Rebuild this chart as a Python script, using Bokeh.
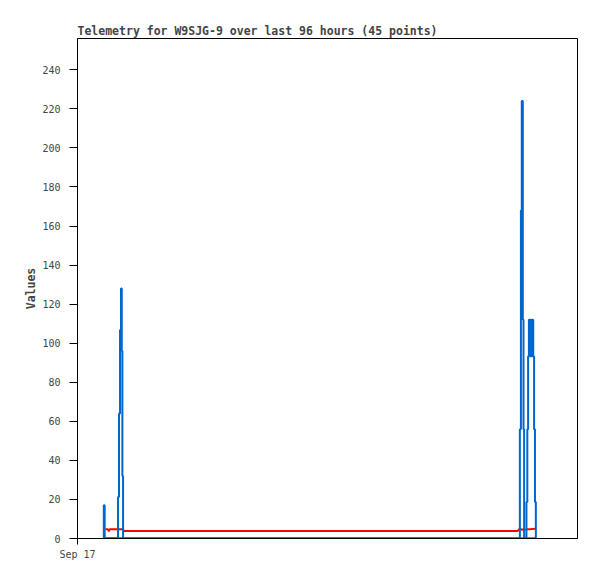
import pandas as pd
from bokeh.plotting import figure
from bokeh.models import Range1d, FixedTicker, DatetimeTickFormatter, ColumnDataSource
from bokeh.embed import file_html
from bokeh.resources import INLINE

title_text = "Telemetry for W9SJG-9 over last 96 hours (45 points)"
y_label = "Values"
range_start = "2023-09-17 00:00"
range_hours = 96
y_ticks = list(range(0, 241, 20))

# blue series (drawn as steps)
blue_times = [
    "2023-09-17 05:01", "2023-09-17 05:03", "2023-09-17 05:13",
    "2023-09-17 07:47", "2023-09-17 07:58", "2023-09-17 08:10", "2023-09-17 08:21",
    "2023-09-17 08:30", "2023-09-17 08:37", "2023-09-17 08:45",
    "2023-09-20 12:56", "2023-09-20 13:08", "2023-09-20 13:18", "2023-09-20 13:30",
    "2023-09-20 13:38", "2023-09-20 13:45",
    "2023-09-20 14:12", "2023-09-20 14:22", "2023-09-20 14:31", "2023-09-20 14:40",
    "2023-09-20 14:47", "2023-09-20 14:54", "2023-09-20 15:01", "2023-09-20 15:08",
    "2023-09-20 15:15", "2023-09-20 15:22",
    "2023-09-20 15:30", "2023-09-20 15:40", "2023-09-20 15:50", "2023-09-20 16:00",
]
blue_values = [
    0, 17, 0,
    21.3, 64, 106.7, 128,
    96, 32, 0,
    56, 168, 224, 112,
    56, 0,
    18.7, 56, 93.3, 112,
    93.3, 112, 93.3, 112,
    93.3, 112,
    93.3, 56, 18.7, 0,
]

# red series
red_times = [
    "2023-09-17 05:23", "2023-09-17 05:49", "2023-09-17 06:01", "2023-09-17 06:12",
    "2023-09-17 07:18", "2023-09-17 08:44", "2023-09-17 08:56",
    "2023-09-20 12:29", "2023-09-20 12:46", "2023-09-20 13:03", "2023-09-20 13:20",
    "2023-09-20 13:38", "2023-09-20 14:01", "2023-09-20 14:24", "2023-09-20 14:59",
    "2023-09-20 15:56",
]
red_values = [
    4.8, 4.8, 3.7, 4.8,
    4.8, 4.8, 3.8,
    3.8, 4.6, 4.8, 4.4,
    4.8, 4.5, 4.8, 4.8,
    5.0,
]

# black series
black_times = ["2023-09-17 05:01", "2023-09-20 16:00"]
black_values = [0, 0]

start = pd.Timestamp(range_start)
end = start + pd.Timedelta(hours=range_hours)

blue_src = ColumnDataSource(dict(t=pd.to_datetime(blue_times), v=blue_values))
red_src = ColumnDataSource(dict(t=pd.to_datetime(red_times), v=red_values))
black_src = ColumnDataSource(dict(t=pd.to_datetime(black_times), v=black_values))

p = figure(
    x_axis_type="datetime",
    frame_width=500, frame_height=500,
    min_border_left=77, min_border_right=12, min_border_top=38, min_border_bottom=33,
    x_range=Range1d(start, end), y_range=Range1d(0, 256),
    output_backend="svg", toolbar_location=None,
    background_fill_color="white", border_fill_color="white",
)
p.grid.visible = False
p.outline_line_color = "black"
p.outline_line_width = 1
p.outline_line_alpha = 1

p.title.text = title_text
p.title.align = "left"
p.title.text_font = "DejaVu Sans Mono"
p.title.text_font_size = "11.5px"
p.title.text_font_style = "bold"
p.title.standoff = 2
p.title.offset = 0

p.line("t", "v", source=red_src, line_color="#ff0000", line_width=2)
p.line("t", "v", source=black_src, line_color="black", line_width=2)
p.step("t", "v", source=blue_src, mode="after", line_color="#0066cc", line_width=2)

ya = p.yaxis[0]
ya.ticker = FixedTicker(ticks=y_ticks)
ya.major_tick_out = 8
ya.major_tick_in = 0
ya.minor_tick_out = 0
ya.minor_tick_in = 0
ya.major_label_text_font = "DejaVu Sans Mono"
ya.major_label_text_font_size = "10px"
ya.major_label_standoff = 9
ya.axis_label = y_label
ya.axis_label_text_font = "DejaVu Sans Mono"
ya.axis_label_text_font_size = "11.5px"
ya.axis_label_text_font_style = "bold"
ya.axis_label_standoff = 1

xa = p.xaxis[0]
xa.ticker = FixedTicker(ticks=[start.value / 1e6])
fmt = "%b %d"
xa.formatter = DatetimeTickFormatter(
    microseconds=fmt, milliseconds=fmt, seconds=fmt, minsec=fmt, minutes=fmt,
    hourmin=fmt, hours=fmt, days=fmt, months=fmt, years=fmt,
)
xa.major_tick_out = 6
xa.major_tick_in = 0
xa.minor_tick_out = 0
xa.minor_tick_in = 0
xa.major_label_text_font = "DejaVu Sans Mono"
xa.major_label_text_font_size = "10px"
xa.major_label_standoff = 4

open("out.html", "w").write(file_html(p, INLINE))
